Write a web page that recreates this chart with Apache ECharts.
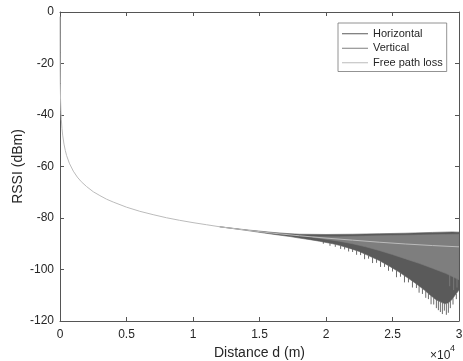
<!DOCTYPE html>
<html><head><meta charset="utf-8">
<script src="https://cdn.jsdelivr.net/npm/echarts@6/dist/echarts.min.js"></script>
<style>html,body{margin:0;padding:0;background:#fff}#c{width:463px;height:361px}</style>
</head><body><div id="c"></div>
<script>
// Free path loss [distance m, RSSI dBm]
const freePathLoss = [[1,-1.8],[2,-7.8],[5,-15.8],[10,-21.8],[20,-27.8],[40,-33.8],[70,-38.7],[100,-41.8],[150,-45.3],[200,-47.8],[300,-51.3],[400,-53.8],[500,-55.8],[700,-58.7],[1000,-61.8],[1300,-64.1],[1600,-65.9],[2000,-67.8],[2500,-69.8],[3000,-71.3],[3500,-72.7],[4000,-73.8],[5000,-75.8],[6000,-77.4],[7000,-78.7],[8000,-79.9],[9000,-80.9],[10000,-81.8],[11000,-82.6],[12000,-83.4],[14000,-84.7],[16000,-85.9],[18000,-86.9],[20000,-87.8],[22000,-88.6],[24000,-89.4],[26000,-90.1],[28000,-90.7],[30000,-91.2]];

// Horizontal polarisation: envelope of the oscillation band
const horizontalUpper = [[12000,-83.4],[14000,-84.6],[16000,-85.6],[17000,-86.0],[18000,-86.3],[20000,-86.4],[22000,-86.3],[24000,-86.1],[26000,-85.9],[28000,-85.6],[29500,-85.4],[30000,-85.5]];
const horizontalLower = [[12000,-83.4],[14000,-84.8],[16000,-86.3],[17300,-87.2],[18000,-87.8],[18800,-88.4],[19500,-89.0],[20500,-90.0],[21000,-90.6],[21800,-91.8],[22500,-93.0],[23100,-94.4],[24000,-96.5],[24800,-98.8],[25500,-101.0],[26300,-103.8],[26800,-105.6],[27400,-108.0],[27800,-109.8],[28300,-111.8],[28800,-113.0],[29000,-113.3],[29250,-112.8],[29500,-111.5],[29700,-110.0],[30000,-108.0]];
// deep nulls [distance, from, to]
const horizontalSpikes = [[19800,-89.2,-90.0],[20300,-89.8,-90.8],[20700,-90.3,-91.2],[21100,-90.7,-92.0],[21400,-91.1,-92.2],[21700,-91.6,-93.0],[22000,-92.1,-93.2],[22300,-92.6,-94.3],[22600,-93.2,-94.4],[22900,-93.8,-96.0],[23200,-94.6,-95.8],[23500,-95.3,-97.5],[23800,-96.0,-97.4],[24100,-96.8,-99.0],[24400,-97.6,-99.0],[24700,-98.5,-100.5],[25000,-99.4,-100.8],[25300,-100.4,-103.0],[25600,-101.3,-102.8],[25900,-102.3,-105.0],[26200,-103.4,-105.0],[26500,-104.5,-107.0],[26800,-105.6,-107.2],[27000,-106.4,-109.0],[27250,-107.4,-109.5],[27500,-108.4,-111.0],[27700,-109.3,-111.5],[27900,-110.2,-113.5],[28100,-111.0,-113.6],[28300,-111.8,-115.0],[28450,-112.2,-115.8],[28600,-112.6,-116.5],[28750,-112.9,-117.3],[28900,-113.1,-116.0],[29050,-113.3,-117.6],[29200,-113.0,-116.8],[29350,-112.3,-115.0],[29550,-111.2,-113.6],[29800,-109.5,-111.5]];

// Vertical polarisation
const verticalUpper = [[19000,-87.3],[21000,-87.3],[23000,-87.0],[25000,-86.8],[27000,-86.6],[29000,-86.4],[30000,-86.3]];
const verticalLower = [[19000,-87.5],[21000,-89.0],[22000,-90.0],[23000,-91.2],[24000,-92.6],[25000,-94.2],[26000,-95.9],[27000,-97.6],[28000,-99.5],[29000,-101.5],[30000,-104.0]];
const verticalSpikes = [[29300,-102.2,-106.5],[29600,-102.9,-108],[29850,-103.6,-107]];

const seriesNames = ['Horizontal','Vertical','Free path loss'];
const colors = ['#5a5a5a','#7e7e7e','#bbbbbb'];

function band(name, color, upper, lower, spikes, z) {
  return {
    type: 'custom', name: name, coordinateSystem: 'cartesian2d', z: z,
    itemStyle: {color: color}, silent: true, clip: true,
    data: [[upper[0][0], upper[0][1]]],
    renderItem: function (params, api) {
      const pts = upper.map(p => api.coord(p)).concat(lower.slice().reverse().map(p => api.coord(p)));
      const children = [{type:'polygon', shape:{points:pts}, style:{fill:color, stroke:color, lineWidth:0.6}}];
      spikes.forEach(s => {
        const a = api.coord([s[0], s[1]]), b = api.coord([s[0], s[2]]);
        children.push({type:'line', shape:{x1:a[0],y1:a[1],x2:b[0],y2:b[1]}, style:{stroke:color, lineWidth:0.9}});
      });
      return {type:'group', children: children};
    }
  };
}

const axisCol = '#555';
const font = 'Liberation Sans, Arial, sans-serif';
const common = {
  type:'value', axisLine:{onZero:false, lineStyle:{color:axisCol, width:1}},
  axisTick:{inside:true, length:4, lineStyle:{color:axisCol}}, splitLine:{show:false}
};

const chart = echarts.init(document.getElementById('c'), null, {renderer:'canvas'});
chart.setOption({
  animation: false,
  textStyle: {fontFamily: font},
  grid: {left:60, right:4, top:12, bottom:40, containLabel:false, outerBoundsMode:'none'},
  xAxis: [
    Object.assign({}, common, {min:0, max:30000, interval:5000, position:'bottom',
      axisLabel:{formatter: v => String(v/10000), color:'#262626', fontSize:12, margin:8, fontFamily:font},
      name:'Distance d (m)', nameLocation:'middle', nameGap:24,
      nameTextStyle:{fontSize:14, color:'#262626', fontFamily:font}}),
    Object.assign({}, common, {min:0, max:30000, interval:5000, position:'top', axisLabel:{show:false}})
  ],
  yAxis: [
    Object.assign({}, common, {min:-120, max:0, interval:20, position:'left',
      axisLabel:{color:'#262626', fontSize:12, margin:6, fontFamily:font},
      name:'RSSI (dBm)', nameLocation:'middle', nameGap:35, nameMoveOverlap:false,
      nameTextStyle:{fontSize:14, color:'#262626', fontFamily:font}}),
    Object.assign({}, common, {min:-120, max:0, interval:20, position:'right', axisLabel:{show:false}})
  ],
  legend: {
    orient:'vertical', left:338, top:23, padding:[3.5,4,1.5,4], itemGap:0,
    itemWidth:26, itemHeight:1, icon:'rect',
    backgroundColor:'#fff', borderColor:'#777', borderWidth:0.8,
    textStyle:{fontSize:11, color:'#262626', lineHeight:14.5, fontFamily:font},
    data: seriesNames
  },
  graphic: [
    {type:'text', left:430, top:350, style:{text:'\u00d710', fontSize:12, fill:'#262626', fontFamily:font}},
    {type:'text', left:450, top:344, style:{text:'4', fontSize:9, fill:'#262626', fontFamily:font}}
  ],
  series: [
    band(seriesNames[0], colors[0], horizontalUpper, horizontalLower, horizontalSpikes, 2),
    band(seriesNames[1], colors[1], verticalUpper, verticalLower, verticalSpikes, 3),
    {type:'line', name:seriesNames[2], data:freePathLoss, showSymbol:false, symbol:'none', z:4,
     color:colors[2], lineStyle:{color:colors[2], width:1}, smooth:false}
  ]
});
</script></body></html>
